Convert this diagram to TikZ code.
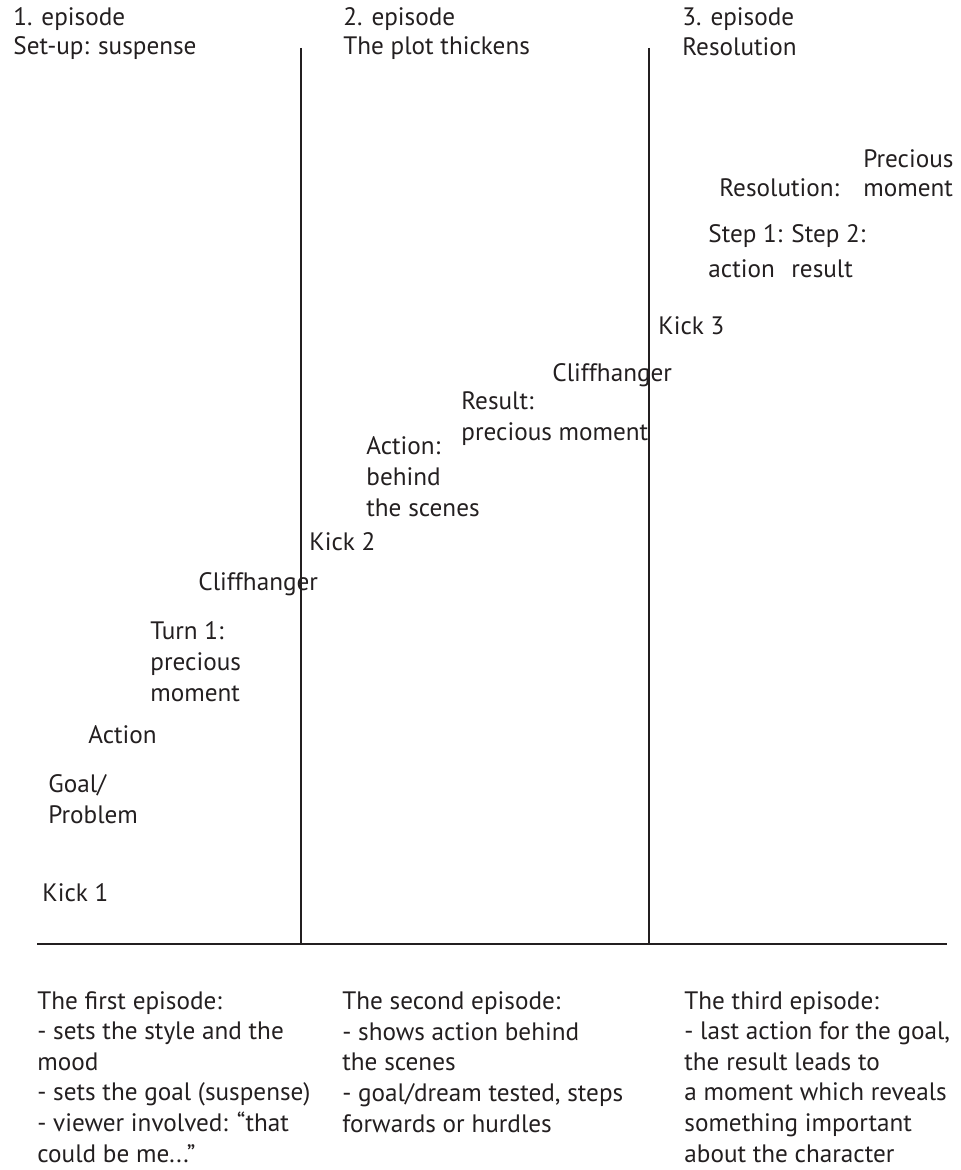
\documentclass[tikz,border=0pt]{standalone}
\usepackage{fontspec}
\setmainfont{PT Sans}
\usetikzlibrary{positioning}
\definecolor{ink}{HTML}{231F20}

\begin{document}
\begin{tikzpicture}[x=0.5pt,y=-0.5pt,
    lbl/.style={anchor=base west,inner sep=0pt,align=left,text=ink,
      font=\fontsize{12.6pt}{15.3pt}\selectfont},
    axis/.style={draw=ink,line width=1pt}]
   \useasboundingbox (0,0) rectangle (961,1170);
   % episode headers (placed at the baseline of their last line)
   \node[lbl] (E1) at (13,55)  {1. episode\\[-0.8pt]Set-up: suspense};
   \node[lbl] (E2) at (343,55) {2. episode\\[-0.8pt]The plot thickens};
   \node[lbl] (E3) at (682,56) {3. episode\\[-0.3pt]Resolution};
   % axes
   \coordinate (O)  at (37,944);
   \coordinate (X)  at (947,944);
   \coordinate (A1) at (301,48);
   \coordinate (B1) at (301,944);
   \coordinate (A2) at (649,48);
   \coordinate (B2) at (649,944);
   \draw[axis] (O) -- (X);
   \draw[axis] (A1) -- (B1);
   \draw[axis] (A2) -- (B2);
   % first episode
   \node[lbl] (K1) at (42,901)  {Kick 1};
   \node[lbl] (G1) at (48,823)  {Goal/\\Problem};
   \node[lbl] (A)  at (88,743)  {Action};
   \node[lbl] (T1) at (150,701) {Turn 1:\\precious\\moment};
   \node[lbl] (C1) at (198,590) {Cliffhanger};
   % second episode
   \node[lbl] (K2) at (309,550) {Kick 2};
   \node[lbl] (AB) at (366,516) {Action:\\behind\\the scenes};
   \node[lbl] (R)  at (461,440) {Result:\\precious moment};
   \node[lbl] (C2) at (552,381) {Cliffhanger};
   % third episode
   \node[lbl] (K3) at (658,335) {Kick 3};
   \node[lbl] (S1) at (708,278) {Step 1:\\[2.5pt]action};
   \node[lbl] (S2) at (791,278) {Step 2:\\[2.5pt]result};
   \node[lbl] (RS) at (719,197) {Resolution:};
   \node[lbl] (PM) at (863,197) {Precious\\[-0.5pt]moment};
   % notes below the axis
   \node[lbl] (N1) at (37,1162)  {The first episode:\\- sets the style and the\\mood\\- sets the goal (suspense)\\- viewer involved: “that\\could be me...”};
   \node[lbl] (N2) at (342,1132) {The second episode:\\- shows action behind\\the scenes\\- goal/dream tested, steps\\forwards or hurdles};
   \node[lbl] (N3) at (684,1162) {The third episode:\\- last action for the goal,\\the result leads to\\a moment which reveals\\something important\\about the character};
\end{tikzpicture}
\end{document}
